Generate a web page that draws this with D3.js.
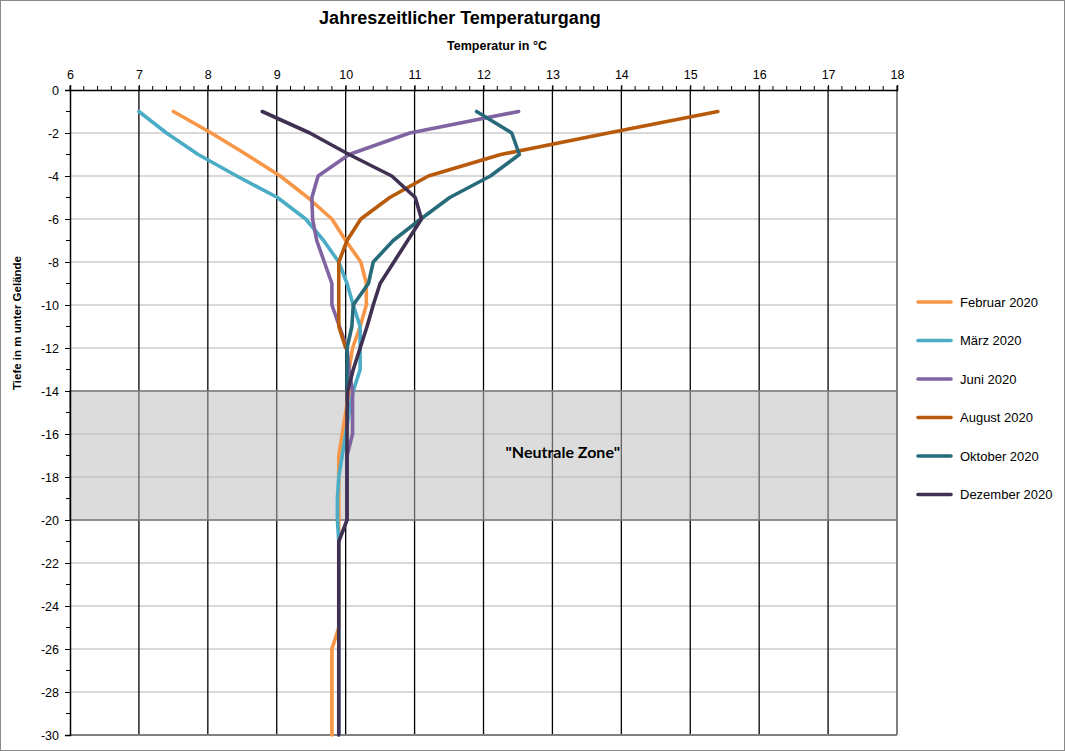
<!DOCTYPE html>
<html><head><meta charset="utf-8">
<script src="https://cdn.jsdelivr.net/npm/d3@7"></script>
<style>body{margin:0;background:#fff}svg{display:block}text{font-family:"Liberation Sans",Arial,sans-serif}</style>
</head><body>
<svg id="c" width="1065" height="751"></svg>
<script>
const depths = [-1,-2,-3,-4,-5,-6,-7,-8,-9,-10,-11,-12,-13,-14,-15,-16,-17,-18,-19,-20,-21,-22,-23,-24,-25,-26,-27,-28,-29,-30];
const seriesNames = ["Februar 2020","März 2020","Juni 2020","August 2020","Oktober 2020","Dezember 2020"];
const seriesColors = ["#F79646","#4BACC6","#8064A2","#B85A0C","#276B7B","#403152"];
const februar  = [7.5,8.05,8.56,9.05,9.45,9.8,10.0,10.22,10.3,10.3,10.21,10.1,10.05,10.05,10.0,9.95,9.9,9.9,9.9,9.9,9.9,9.9,9.9,9.9,9.9,9.8,9.8,9.8,9.8,9.8];
const maerz    = [7.0,7.4,7.86,8.42,9.01,9.42,9.68,9.9,10.02,10.11,10.21,10.21,10.21,10.11,10.05,10.0,9.95,9.9,9.88,9.88,9.9,9.9,9.9,9.9,9.9,9.9,9.9,9.9,9.9,9.9];
const juni     = [12.51,10.93,10.05,9.6,9.51,9.52,9.58,9.69,9.8,9.8,9.91,10.02,10.05,10.1,10.1,10.1,10.02,10.02,10.02,10.02];
const august   = [15.4,13.81,12.25,11.2,10.64,10.22,10.02,9.9,9.9,9.9,9.9,10.0];
const oktober  = [11.9,12.41,12.52,12.1,11.51,11.09,10.69,10.4,10.33,10.11,10.09,10.02,10.02,10.02];
const dezember = [8.79,9.48,10.05,10.67,11.01,11.1,10.9,10.7,10.5,10.4,10.31,10.21,10.11,10.03,10.02,10.02,10.02,10.02,10.02,10.02,9.9,9.9,9.9,9.9,9.9,9.9,9.9,9.9,9.9,9.9];
const seriesValues = [februar, maerz, juni, august, oktober, dezember];
const xTicks = [6,7,8,9,10,11,12,13,14,15,16,17,18];
const yTicks = [0,-2,-4,-6,-8,-10,-12,-14,-16,-18,-20,-22,-24,-26,-28,-30];
const neutralZone = [-14,-20];

const svg = d3.select("#c");
const L=70, R=897, T=90, B=735;
const x = d3.scaleLinear().domain([6,18]).range([L,R]);
const y = d3.scaleLinear().domain([0,-30]).range([T,B]);

// outer border
svg.append("rect").attr("x",0.5).attr("y",0.5).attr("width",1064).attr("height",750)
  .attr("fill","#fff").attr("stroke","#8a8a8a").attr("stroke-width",1);

// horizontal gridlines
svg.append("g").selectAll("line").data(yTicks.filter(d=>d!==0)).join("line")
  .attr("x1",L).attr("x2",R).attr("y1",d=>y(d)).attr("y2",d=>y(d))
  .attr("stroke","#b3b3b3").attr("stroke-width",1.2);
// vertical gridlines
svg.append("g").selectAll("line").data(xTicks.filter(d=>d!==6 && d!==18)).join("line")
  .attr("x1",d=>x(d)).attr("x2",d=>x(d)).attr("y1",T).attr("y2",B)
  .attr("stroke","#000").attr("stroke-width",1.3);

// neutral zone
svg.append("rect").attr("x",L).attr("y",y(neutralZone[0])).attr("width",R-L)
  .attr("height",y(neutralZone[1])-y(neutralZone[0]))
  .attr("fill","#bcbcbc").attr("fill-opacity",0.52).attr("stroke","#7f7f7f").attr("stroke-width",1.6);
svg.append("text").attr("x",x(13.15)).attr("y",y(-17)+2).attr("text-anchor","middle")
  .style("font-family","Lato, 'Open Sans', sans-serif").attr("font-weight","bold").attr("font-size",16)
  .attr("fill","#000").text("\"Neutrale Zone\"");

// plot border right/bottom
svg.append("line").attr("x1",R).attr("x2",R).attr("y1",T).attr("y2",B).attr("stroke","#808080").attr("stroke-width",2);
svg.append("line").attr("x1",L).attr("x2",R).attr("y1",B).attr("y2",B).attr("stroke","#808080").attr("stroke-width",2);

// series
const line = d3.line().x(d=>x(d[0])).y(d=>y(d[1]));
seriesValues.forEach((vals,i)=>{
  const pts = vals.map((v,j)=>[v,depths[j]]);
  svg.append("path").attr("d",line(pts)).attr("fill","none")
    .attr("stroke",seriesColors[i]).attr("stroke-width",3.6)
    .attr("stroke-linejoin","round").attr("stroke-linecap","round");
});

// top axis
const xAxis = d3.axisTop(x).tickValues(xTicks).tickSize(5).tickPadding(6).tickFormat(d3.format("d"));
const gx = svg.append("g").attr("transform",`translate(0,${T})`).call(xAxis);
gx.select(".domain").attr("stroke","#000").attr("stroke-width",1.5);
gx.selectAll("text").attr("font-size",12.5).attr("fill","#000").style("font-family","'Liberation Sans',Arial,sans-serif");
const minorX = d3.range(6,18.001,0.2);
svg.append("g").selectAll("line").data(minorX).join("line")
  .attr("x1",d=>x(d)).attr("x2",d=>x(d)).attr("y1",T-4).attr("y2",T)
  .attr("stroke","#000").attr("stroke-width",1);

// left axis
const yAxis = d3.axisLeft(y).tickValues(yTicks).tickSize(5).tickPadding(6).tickFormat(d3.format("d"));
const gy = svg.append("g").attr("transform",`translate(${L},0)`).call(yAxis);
gy.select(".domain").attr("stroke","#000").attr("stroke-width",1.5);
gy.selectAll("text").attr("font-size",12.5).attr("fill","#000").style("font-family","'Liberation Sans',Arial,sans-serif")
  .text(d=>d<0? "-"+Math.abs(d) : d);
svg.append("g").selectAll("line").data(d3.range(-1,-30,-2)).join("line")
  .attr("x1",L-4).attr("x2",L).attr("y1",d=>y(d)).attr("y2",d=>y(d))
  .attr("stroke","#000").attr("stroke-width",1);

// titles
svg.append("text").attr("x",460).attr("y",24).attr("text-anchor","middle")
  .attr("font-weight","bold").attr("font-size",18).text("Jahreszeitlicher Temperaturgang");
svg.append("text").attr("x",497).attr("y",50).attr("text-anchor","middle")
  .attr("font-weight","bold").attr("font-size",12.5).text("Temperatur in °C");
svg.append("text").attr("transform","translate(21,323) rotate(-90)").attr("text-anchor","middle")
  .attr("font-weight","bold").attr("font-size",11.5).text("Tiefe in m unter Gelände");

// legend
const lg = svg.append("g");
seriesNames.forEach((n,i)=>{
  const yy = 302 + i*38.5;
  lg.append("line").attr("x1",918).attr("x2",951).attr("y1",yy).attr("y2",yy)
    .attr("stroke",seriesColors[i]).attr("stroke-width",3.6).attr("stroke-linecap","round");
  lg.append("text").attr("x",960).attr("y",yy+4.5).attr("font-size",13).text(n);
});
</script>
</body></html>
